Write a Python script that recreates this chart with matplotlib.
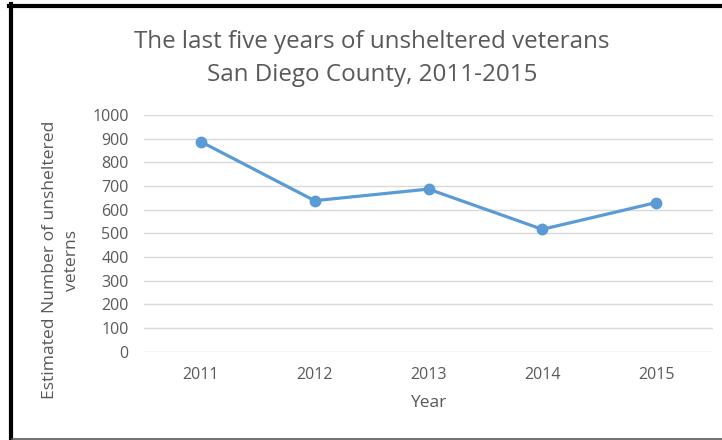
import matplotlib
matplotlib.use("Agg")
import matplotlib.pyplot as plt
from matplotlib.lines import Line2D

years = ["2011", "2012", "2013", "2014", "2015"]
veterans = [887, 638, 687, 517, 630]
y_ticks = [0, 100, 200, 300, 400, 500, 600, 700, 800, 900, 1000]

gris = "#595959"
azul = "#5B9BD5"
W, H = 722, 440

plt.rcParams['font.family'] = ['Open Sans', 'DejaVu Sans']

fig = plt.figure(figsize=(W / 100, H / 100), dpi=100)
ax = fig.add_axes([144 / W, (H - 351.7) / H, (713 - 144) / W, (351.7 - 115) / H])

x = range(len(years))
ax.plot(x, veterans, color=azul, linewidth=2.3, marker="o", markersize=7.5,
        solid_capstyle="round", zorder=3)

ax.set_xlim(-0.5, len(years) - 0.5)
ax.set_ylim(0, 1000)
ax.set_xticks(list(x))
ax.set_xticklabels(years)
ax.set_yticks(y_ticks)
ax.tick_params(length=0, labelsize=11.5, colors=gris, pad=11)
ax.tick_params(axis="x", pad=11)
ax.grid(axis="y", color="#D9D9D9", linewidth=1)
ax.set_axisbelow(True)
for s in ax.spines.values():
    s.set_visible(False)

ax.set_xlabel("Year", fontsize=12.5, color=gris, labelpad=9)
fig.text(61.5 / W, 1 - 260 / H, "Estimated Number of unsheltered\nveterns",
         rotation=90, ha="center", va="center", fontsize=12.6, color=gris,
         linespacing=1.5)

fig.text(372 / W, 1 - 58.5 / H, "The last five years of unsheltered veterans\nSan Diego County, 2011-2015",
         ha="center", va="center", fontsize=17.4, color=gris, linespacing=1.5)

# borde negro del recuadro
fig.add_artist(Line2D([10.7 / W, 10.7 / W], [0, 1 - 4 / H], transform=fig.transFigure,
                      color="black", linewidth=3))
fig.add_artist(Line2D([9 / W, 1], [1 - 5.7 / H, 1 - 5.7 / H], transform=fig.transFigure,
                      color="black", linewidth=3))
fig.add_artist(Line2D([12 / W, 1], [1.2 / H, 1.2 / H], transform=fig.transFigure,
                      color="#595959", linewidth=1.2))

fig.savefig("out.png", dpi=100)
